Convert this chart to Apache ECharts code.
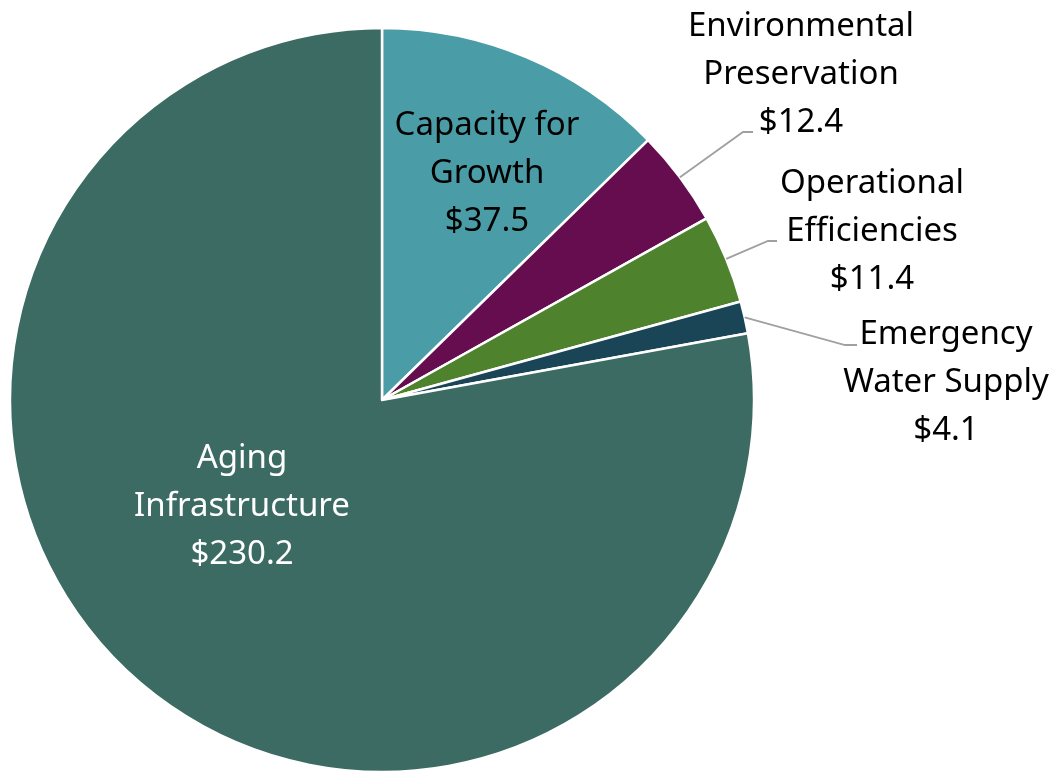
<!DOCTYPE html>
<html><head><meta charset="utf-8">
<script src="https://cdn.jsdelivr.net/npm/echarts@6/dist/echarts.min.js"></script>
<style>html,body{margin:0;padding:0;background:#fff}#c{width:1053px;height:771px}</style>
</head><body><div id="c"></div>
<script>
const categories = ['Capacity for\nGrowth', 'Environmental\nPreservation', 'Operational\nEfficiencies', 'Emergency\nWater Supply', 'Aging\nInfrastructure'];
const values = [37.5, 12.4, 11.4, 4.1, 230.2];
const colors = ['#4A9DA6', '#650D4F', '#4E822D', '#1A4556', '#3C6B63'];
const labelInside = [true, false, false, false, true];
const labelColors = ['#000', '#000', '#000', '#000', '#fff'];
// label centers (layout)
const labelPos = [[487, 174], [801, 75], [872, 232], [946, 383], [242, 507]];
// leader line elbow and end points (layout), null = no leader
const leaderPts = [null, [[743, 132], [753, 132]], [[768, 241], [777, 241]], [[845, 345], [857, 345]], null];

const chart = echarts.init(document.getElementById('c'));
chart.setOption({
  animation: false,
  series: [{
    type: 'pie',
    center: [382, 400],
    radius: 372,
    startAngle: 90,
    clockwise: true,
    avoidLabelOverlap: false,
    itemStyle: { borderColor: '#fff', borderWidth: 2.5 },
    label: {
      show: true,
      position: 'outside',
      formatter: p => p.name + '\n$' + p.value.toFixed(1),
      fontSize: 33,
      lineHeight: 48,
      fontFamily: 'Noto Sans',
      align: 'center'
    },
    labelLine: { show: false },
    labelLayout: function (p) {
      const pos = labelPos[p.dataIndex];
      return { x: pos[0], y: pos[1], align: 'center', verticalAlign: 'middle' };
    },
    data: categories.map((c, i) => ({
      name: c,
      value: values[i],
      itemStyle: { color: colors[i] },
      label: { position: labelInside[i] ? 'inside' : 'outside', color: labelColors[i] }
    }))
  }]
});

// leader lines anchored at each slice's outer mid-angle point from the pie layout
const data = chart.getModel().getSeriesByIndex(0).getData();
const lines = [];
for (let i = 0; i < values.length; i++) {
  if (!leaderPts[i]) continue;
  const l = data.getItemLayout(i);
  const mid = (l.startAngle + l.endAngle) / 2;
  const a = [l.cx + l.r * Math.cos(mid), l.cy + l.r * Math.sin(mid)];
  lines.push({
    type: 'polyline', z: 10,
    shape: { points: [a].concat(leaderPts[i]) },
    style: { stroke: '#A0A0A0', lineWidth: 1.8, fill: null }
  });
}
chart.setOption({ graphic: lines });
</script></body></html>
